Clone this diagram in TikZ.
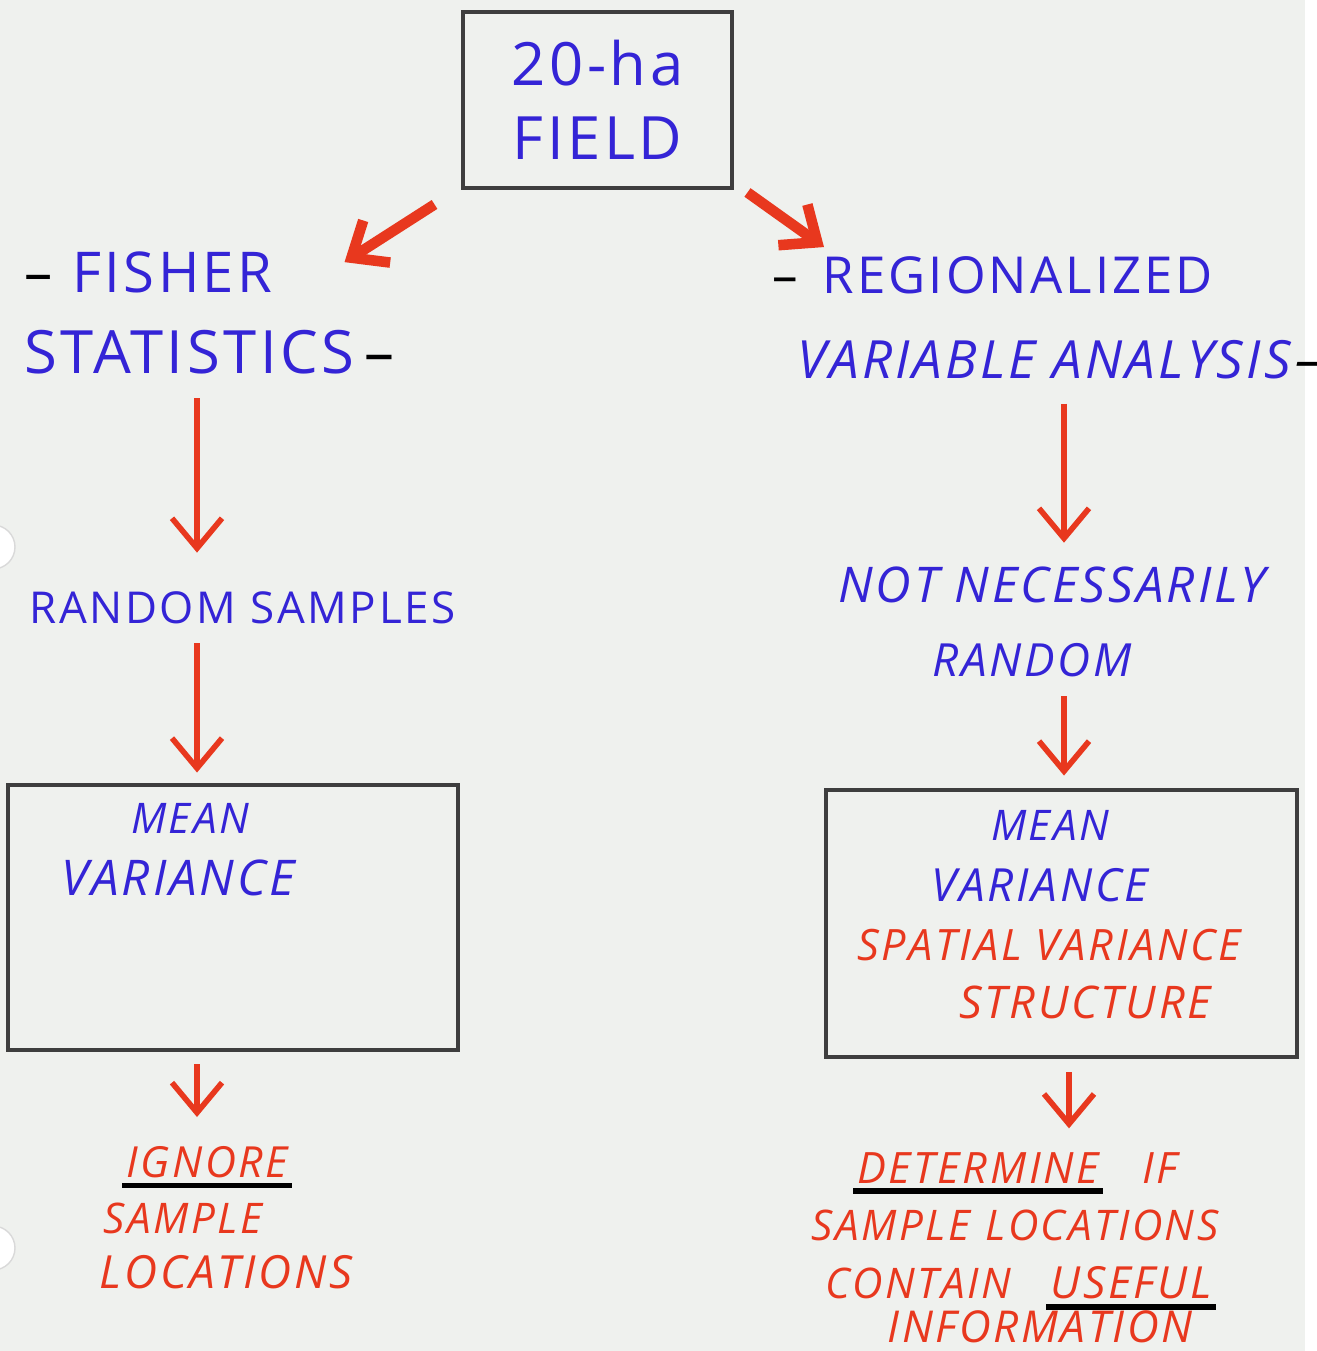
\documentclass[tikz,border=0pt]{standalone}
\usepackage{fontspec}
\setmainfont[LetterSpace=6]{Open Sans}
\usetikzlibrary{arrows.meta,calc}
\definecolor{ink}{RGB}{52,36,214}
\definecolor{marker}{RGB}{232,56,30}
\definecolor{pencil}{RGB}{62,62,62}
\definecolor{paper}{RGB}{239,241,238}

\begin{document}
\begin{tikzpicture}[
    txt/.style={text=ink, inner sep=1pt, font=\fontsize{16}{19}\selectfont},
    rtxt/.style={txt, text=marker},
    hand/.style={font=\fontsize{#1}{20}\selectfont},
    handit/.style={font=\fontsize{#1}{20}\selectfont\itshape},
    frame/.style={draw=pencil, line width=1.4pt},
    arr/.style={marker, line width=1.6pt, -{Straight Barb[length=3mm,width=5mm]}},
    bigarr/.style={arr, line width=3pt},
    uline/.style={black, line width=1.6pt}]

    % paper
    \useasboundingbox (0,0) rectangle (13.17,-13.51);
    \fill[paper] (0,0) rectangle (13.17,-13.51);
    \fill[white] (13.05,0) rectangle (13.17,-13.51);
    \fill[white, draw=black!15] (-0.07,-5.47) circle (0.22);
    \fill[white, draw=black!15] (-0.07,-12.48) circle (0.22);

    \coordinate (lcol) at (1.97,0);
    \coordinate (rcol) at (10.64,0);

    \node[txt, frame, minimum width=2.69cm, minimum height=1.76cm, align=center,
          font=\fontsize{17}{21}\selectfont] (field) at (5.975,-1.0) {20-ha\\FIELD};

	% left branch
    \node[txt, anchor=west] (fisher) at (0.2,-2.72) {\textcolor{black}{--}\hspace{0.2cm}FISHER};
    \node[txt, hand=17, anchor=west] (stat) at (0.2,-3.52) {STATISTICS\hspace{0.1cm}\textcolor{black}{--}};
    \node[txt, hand=12.5, anchor=west] (samples) at (0.25,-6.08) {RANDOM SAMPLES};
    \node[frame, minimum width=4.5cm, minimum height=2.65cm] (lbox) at (2.33,-9.175) {};
    \node[txt, handit=12] (lmean) at (1.90,-8.18) {MEAN};
    \node[txt, handit=14] (lvar) at (1.78,-8.78) {VARIANCE};
    \node[rtxt, handit=12.2] (ignore) at (2.07,-11.62) {IGNORE};
    \node[rtxt, handit=12] (lsample) at (1.83,-12.18) {SAMPLE};
    \node[rtxt, handit=13] (lloc) at (2.26,-12.72) {LOCATIONS};

	% right branch
    \node[txt, hand=14.5, anchor=west] (reg) at (7.68,-2.75) {\textcolor{black}{--}\hspace{0.25cm}REGIONALIZED};
    \node[txt, handit=15, anchor=west] (var) at (7.93,-3.60) {VARIABLE ANALYSIS\hspace{0.05cm}\textcolor{black}{--}};
    \node[txt, handit=14] (notnec) at (10.52,-5.85) {NOT NECESSARILY};
    \node[txt, handit=13] (rrandom) at (10.32,-6.60) {RANDOM};
    \node[frame, minimum width=4.71cm, minimum height=2.67cm] (rbox) at (10.615,-9.235) {};
    \node[txt, handit=12] (rmean) at (10.50,-8.25) {MEAN};
    \node[txt, handit=13] (rvar) at (10.40,-8.85) {VARIANCE};
    \node[rtxt, handit=12.3] (spatial) at (10.49,-9.45) {SPATIAL VARIANCE};
    \node[rtxt, handit=12.8] (struct) at (10.85,-10.02) {STRUCTURE};
    \node[rtxt, handit=12.3] (determ) at (9.78,-11.68) {DETERMINE};
    \node[rtxt, handit=12.3] (rif) at (11.6,-11.68) {IF};
    \node[rtxt, handit=12] (rsample) at (10.15,-12.25) {SAMPLE\hspace{0.15cm}LOCATIONS};
    \node[rtxt, handit=12] (contain) at (9.18,-12.83) {CONTAIN};
    \node[rtxt, handit=12.6] (useful) at (11.31,-12.83) {USEFUL};
    \node[rtxt, handit=12.5] (info) at (10.40,-13.27) {INFORMATION};

	% underlines
    \draw[uline] ([yshift=-1pt]ignore.south west) -- ([yshift=-1pt]ignore.south east);
    \draw[uline] ([yshift=-1pt]determ.south west) -- ([yshift=-1pt]determ.south east);
    \draw[uline] ([yshift=-1pt]useful.south west) -- ([yshift=-1pt]useful.south east);

	% arrows
    \draw[bigarr] ([shift={(-0.26,-0.14)}]field.south west) -- ([shift={(0.68,-0.15)}]fisher.north east);
    \draw[bigarr] ([shift={(0.13,-0.02)}]field.south east) -- ([shift={(0.56,0.05)}]reg.north west);
    \draw[arr, shorten <=0.2cm, shorten >=0.35cm] (stat.south -| lcol) -- (samples.north -| lcol);
    \draw[arr, shorten <=0.15cm, shorten >=0.1cm] (samples.south -| lcol) -- (lbox.north -| lcol);
    \draw[arr, shorten <=0.12cm, shorten >=0.25cm] (lbox.south -| lcol) -- (ignore.north -| lcol);
    \draw[arr, shorten <=0.2cm, shorten >=0.2cm] (var.south -| rcol) -- (notnec.north -| rcol);
    \draw[arr, shorten <=0.15cm, shorten >=0.12cm] (rrandom.south -| rcol) -- (rbox.north -| rcol);
    \draw[arr, shorten <=0.13cm, shorten >=0.2cm] ([xshift=0.05cm]rbox.south -| rcol) -- ([xshift=0.05cm]determ.north -| rcol);

\end{tikzpicture}
\end{document}
